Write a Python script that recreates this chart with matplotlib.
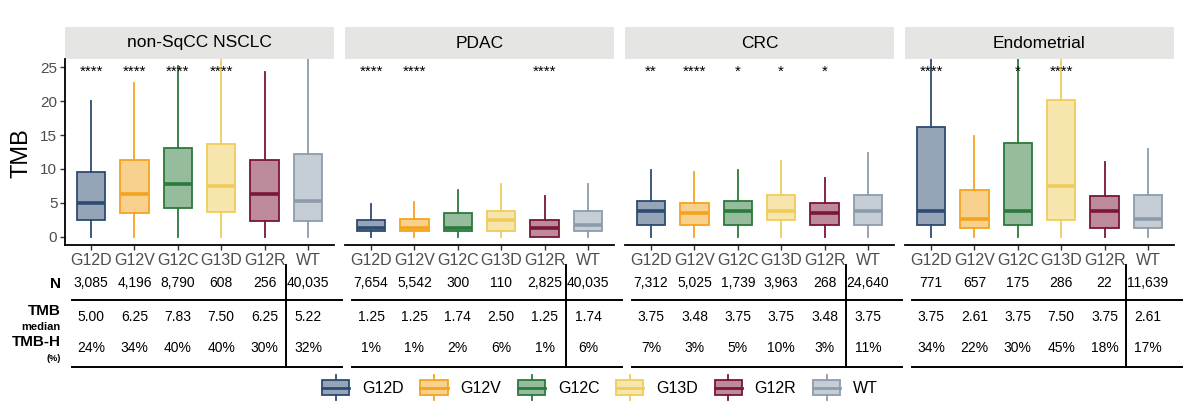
import matplotlib.pyplot as plt
from matplotlib.patches import Rectangle
from matplotlib.lines import Line2D
from matplotlib.legend_handler import HandlerBase
from matplotlib.colors import to_rgba

plt.rcParams['font.family'] = ['Liberation Sans', 'DejaVu Sans']

mutations = ['G12D', 'G12V', 'G12C', 'G13D', 'G12R', 'WT']
cancers = ['non-SqCC NSCLC', 'PDAC', 'CRC', 'Endometrial']
colors = ['#2d4b6f', '#f3a41f', '#2b7a3c', '#efcc5b', '#7a1636', '#8d9cac']

# box stats (one row per cancer type)
box_q1 = [[2.45, 3.45, 4.3, 3.7, 2.4, 2.4],
          [0.8, 0.8, 0.8, 0.8, 0.0, 0.8],
          [1.7, 1.7, 1.7, 2.5, 1.7, 1.7],
          [1.7, 1.25, 1.7, 2.5, 1.35, 1.25]]
box_med = [[5.0, 6.25, 7.83, 7.5, 6.25, 5.22],
           [1.25, 1.25, 1.25, 2.55, 1.35, 1.75],
           [3.8, 3.5, 3.8, 3.8, 3.5, 3.8],
           [3.8, 2.65, 3.8, 7.55, 3.8, 2.65]]
box_q3 = [[9.6, 11.3, 13.1, 13.7, 11.3, 12.2],
          [2.55, 2.65, 3.55, 3.8, 2.45, 3.8],
          [5.3, 5.0, 5.3, 6.15, 5.0, 6.15],
          [16.2, 6.95, 13.8, 20.1, 5.95, 6.1]]
box_hi = [[20.0, 22.6, 25.1, 30.0, 24.3, 30.0],
          [4.85, 5.2, 6.9, 7.75, 6.05, 7.75],
          [9.9, 9.5, 9.9, 11.2, 8.7, 12.4],
          [35.0, 14.9, 32.0, 32.0, 11.1, 13.0]]
box_lo = [[0, 0, 0, 0, 0, 0],
          [0, 0, 0, 0, 0, 0],
          [0, 0, 0, 0, 0, 0],
          [0, 0, 0, 0, 0, 0]]

stars = [['****', '****', '****', '****', '', ''],
         ['****', '****', '', '', '****', ''],
         ['**', '****', '*', '*', '*', ''],
         ['****', '', '*', '****', '', '']]

n_counts = [['3,085', '4,196', '8,790', '608', '256', '40,035'],
            ['7,654', '5,542', '300', '110', '2,825', '40,035'],
            ['7,312', '5,025', '1,739', '3,963', '268', '24,640'],
            ['771', '657', '175', '286', '22', '11,639']]
tmb_median = [['5.00', '6.25', '7.83', '7.50', '6.25', '5.22'],
              ['1.25', '1.25', '1.74', '2.50', '1.25', '1.74'],
              ['3.75', '3.48', '3.75', '3.75', '3.48', '3.75'],
              ['3.75', '2.61', '3.75', '7.50', '3.75', '2.61']]
tmb_high = [['24%', '34%', '40%', '40%', '30%', '32%'],
            ['1%', '1%', '2%', '6%', '1%', '6%'],
            ['7%', '3%', '5%', '10%', '3%', '11%'],
            ['34%', '22%', '30%', '45%', '18%', '17%']]

W, H = 1200, 411
fig = plt.figure(figsize=(12, 4.11), dpi=100)

panel_left = [65, 345, 625, 905]
ax_top, ax_bot = 59, 245
ax_h = ax_bot - ax_top


def fy(px):
    # pixel row -> axes fraction
    return (ax_bot - px) / ax_h


for k, cancer in enumerate(cancers):
    ax = fig.add_axes([panel_left[k] / W, 1 - ax_bot / H, 269 / W, ax_h / H])
    stats = []
    for i in range(6):
        stats.append(dict(med=box_med[k][i], q1=box_q1[k][i], q3=box_q3[k][i],
                          whislo=box_lo[k][i], whishi=box_hi[k][i], fliers=[]))
    bp = ax.bxp(stats, positions=range(6), widths=0.65, patch_artist=True,
                showfliers=False, showcaps=False)
    for i, c in enumerate(colors):
        bp['boxes'][i].set(facecolor=to_rgba(c, 0.5), edgecolor=c, linewidth=1.3)
        bp['medians'][i].set(color=c, linewidth=2.6, solid_capstyle='butt')
        for w in bp['whiskers'][2 * i:2 * i + 2]:
            w.set(color=c, linewidth=1.3)

    ax.set_xlim(-0.6, 5.6)
    ax.set_ylim(-1.2, 26.2)
    ax.set_xticks(range(6))
    ax.set_xticklabels(mutations, fontsize=11.5, color='#4d4d4d')
    ax.tick_params(axis='x', length=3.5, width=1, color='#333333', pad=2.5)
    for s in ['top', 'right']:
        ax.spines[s].set_visible(False)
    ax.spines['bottom'].set_linewidth(1.3)
    if k == 0:
        ax.set_yticks([0, 5, 10, 15, 20, 25])
        ax.tick_params(axis='y', labelsize=11, labelcolor='#4d4d4d', length=3.5,
                       width=1, color='#333333', pad=2)
        ax.spines['left'].set_linewidth(1.3)
    else:
        ax.spines['left'].set_visible(False)
        ax.set_yticks([])

    # strip
    ax.add_patch(Rectangle((0, 1.0), 1, 32 / ax_h, transform=ax.transAxes,
                           clip_on=False, facecolor='#e5e5e3', edgecolor='none'))
    ax.text(0.5, 1 + 16 / ax_h, cancer, transform=ax.transAxes, ha='center',
            va='center', fontsize=12.5)

    for i in range(6):
        ax.text(i, 24.3, stars[k][i], ha='center', va='center', fontsize=11)

    # table below panel
    tr = ax.get_xaxis_transform()
    for i in range(6):
        ax.text(i, fy(283), n_counts[k][i], transform=tr, ha='center', va='center', fontsize=10)
        ax.text(i, fy(317), tmb_median[k][i], transform=tr, ha='center', va='center', fontsize=10)
        ax.text(i, fy(348), tmb_high[k][i], transform=tr, ha='center', va='center', fontsize=10)
    for yy in [300, 367]:
        ax.plot([-0.45, 5.78], [fy(yy), fy(yy)], transform=tr, clip_on=False,
                color='black', lw=1.4)
    ax.plot([4.5, 4.5], [fy(265), fy(367)], transform=tr, clip_on=False,
            color='black', lw=1.4)

fig.text(22 / W, 1 - 153 / H, 'TMB', rotation=90, ha='center', va='center', fontsize=17)

fig.text(61 / W, 1 - 284 / H, 'N', ha='right', va='center', fontsize=11, fontweight='bold')
fig.text(61 / W, 1 - 311 / H, 'TMB', ha='right', va='center', fontsize=11, fontweight='bold')
fig.text(61 / W, 1 - 327 / H, 'median', ha='right', va='center', fontsize=8, fontweight='bold')
fig.text(61 / W, 1 - 342 / H, 'TMB-H', ha='right', va='center', fontsize=11, fontweight='bold')
fig.text(61 / W, 1 - 358 / H, '(%)', ha='right', va='center', fontsize=6.5, fontweight='bold')


class BoxHandler(HandlerBase):
    def create_artists(self, legend, orig_handle, xdescent, ydescent, width,
                       height, fontsize, trans):
        c = orig_handle.get_color()
        x0, y0 = -xdescent, -ydescent
        rect = Rectangle((x0, y0), width, height, facecolor=to_rgba(c, 0.5),
                         edgecolor=c, lw=1.3, transform=trans)
        med = Line2D([x0, x0 + width], [y0 + height / 2] * 2, color=c, lw=2, transform=trans)
        wu = Line2D([x0 + width / 2] * 2, [y0 + height, y0 + height * 1.3], color=c, lw=1.3, transform=trans)
        wl = Line2D([x0 + width / 2] * 2, [y0 - height * 0.3, y0], color=c, lw=1.3, transform=trans)
        return [rect, med, wu, wl]


handles = [Line2D([], [], color=c) for c in colors]
fig.legend(handles, mutations, handler_map={Line2D: BoxHandler()}, loc='center',
           bbox_to_anchor=(0.5, 1 - 388 / H), ncol=6, frameon=False, fontsize=11.5,
           handlelength=1.7, handleheight=1.1, columnspacing=1.05, handletextpad=0.8)

fig.savefig('out.png', dpi=100)
